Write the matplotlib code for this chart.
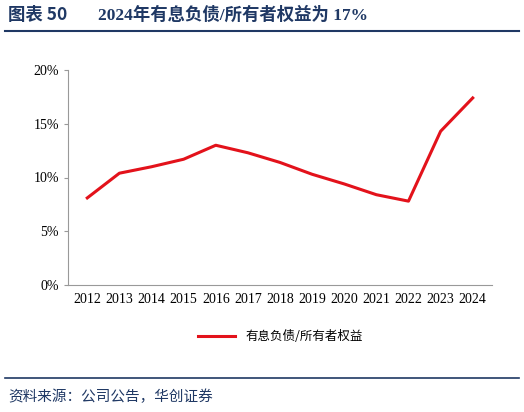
import matplotlib
matplotlib.use("Agg")
import matplotlib.pyplot as plt
from matplotlib.lines import Line2D

years = ["2012","2013","2014","2015","2016","2017","2018","2019","2020","2021","2022","2023","2024"]
ratio = [8.1,10.4,11.0,11.7,13.0,12.3,11.4,10.3,9.4,8.4,7.8,14.3,17.4]
yticks = [0,5,10,15,20]

W,H = 524,412
fig = plt.figure(figsize=(W/100,H/100), dpi=100)
fam = ['Liberation Serif','Noto Sans CJK SC']
navy = '#1F3864'

fig.text(8/W, 1-15/H, "图表 50", family=['Noto Sans CJK SC'], fontsize=12.5, weight='bold', color=navy, va='center')
fig.text(98/W, 1-15/H, "2024年有息负债/所有者权益为 17%", family=fam, fontsize=12.5, weight='bold', color=navy, va='center')
fig.add_artist(Line2D([5/W, 519/W],[1-31/H,1-31/H], color=navy, lw=1.5))
fig.add_artist(Line2D([5/W, 519/W],[1-378/H,1-378/H], color=navy, lw=1.2))
fig.text(8/W, 1-397/H, "资料来源：公司公告，华创证券", family=['Noto Sans CJK SC'], fontsize=10.5, style='italic', color=navy, va='center')

ax = fig.add_axes([68/W, 1-285/H, (492-68)/W, (285-70)/H])
x = list(range(len(years)))
ax.plot(x, ratio, color='#E3121B', lw=2.2, label="有息负债/所有者权益")
ax.set_ylim(0,20)
ax.set_xlim(-0.6, len(years)-0.4)
ax.set_yticks(yticks)
ax.set_yticklabels([f"{v}%" for v in yticks], family=fam, fontsize=10)
ax.set_xticks(x)
ax.set_xticklabels(years, family=fam, fontsize=10)
for s in ['top','right']:
    ax.spines[s].set_visible(False)
for s in ['left','bottom']:
    ax.spines[s].set_color('#999999')
ax.tick_params(axis='x', length=0, pad=6)
ax.tick_params(axis='y', length=3, color='#999999')
leg = ax.legend(loc='center', bbox_to_anchor=(0.5, -0.24), frameon=False, prop={'family':['Noto Sans CJK SC'], 'size':9}, handlelength=3)
fig.savefig("out.png", dpi=100)
